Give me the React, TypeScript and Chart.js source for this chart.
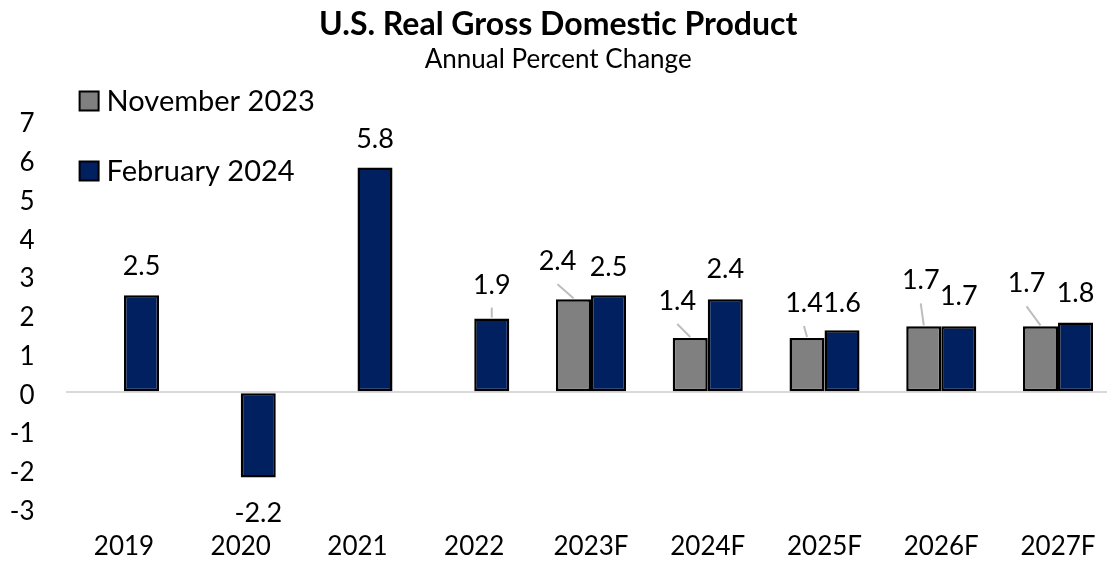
import React, { useEffect, useRef } from "react";
import { Chart, registerables } from "chart.js";

Chart.register(...registerables);

// ---- data ----
const categories = ["2019", "2020", "2021", "2022", "2023F", "2024F", "2025F", "2026F", "2027F"];
const november2023: (number | null)[] = [null, null, null, null, 2.4, 1.4, 1.4, 1.7, 1.7];
const february2024: (number | null)[] = [2.5, -2.2, 5.8, 1.9, 2.5, 2.4, 1.6, 1.7, 1.8];
const seriesNames = ["November 2023", "February 2024"];
const yMin = -3;
const yMax = 7;
const yStep = 1;

// ---- label placement (dx from bar centre, gap from bar end), px ----
const novLabelOffsets: ([number, number] | null)[] = [null, null, null, null, [-16, 29], [-13, 28], [-3, 26], [-3, 37], [-14, 34]];
const febLabelOffsets: ([number, number] | null)[] = [[0, 20], [0, 25], [0, 19], [0, 25], [0, 19], [0, 21], [0, 18], [0, 21], [0, 20]];

const FONT = "Lato, 'Noto Sans', sans-serif";
const TEXT = "#000000";
const GRAY = "#808080";
const BLUE = "#002060";
const LABEL_SIZE = 27;

const valueLabels = {
  id: "valueLabels",
  afterDatasetsDraw(chart: any) {
    const ctx = chart.ctx;
    ctx.save();
    ctx.font = `${LABEL_SIZE}px ${FONT}`;
    ctx.textAlign = "center";
    ctx.textBaseline = "alphabetic";
    ctx.fillStyle = TEXT;
    const offsets = [novLabelOffsets, febLabelOffsets];
    chart.data.datasets.forEach((ds: any, di: number) => {
      const meta = chart.getDatasetMeta(di);
      meta.data.forEach((bar: any, i: number) => {
        const v = ds.data[i];
        const off = offsets[di][i];
        if (v == null || !off) return;
        const [dx, gap] = off;
        const lx = bar.x + dx;
        let ly: number;
        if (v >= 0) {
          ly = bar.y - gap;
          if (gap >= 24) {
            ctx.save();
            ctx.strokeStyle = "#bdbdbd";
            ctx.lineWidth = 2;
            ctx.beginPath();
            ctx.moveTo(bar.x, bar.y - 1);
            ctx.lineTo(lx, ly + 14);
            ctx.stroke();
            ctx.restore();
          }
        } else {
          ly = bar.y + gap + LABEL_SIZE * 0.72;
        }
        ctx.fillText(v.toFixed(1), lx, ly);
      });
    });
    ctx.restore();
  },
};

const boxLegend = {
  id: "boxLegend",
  afterDraw(chart: any) {
    const ctx = chart.ctx;
    const ca = chart.chartArea;
    ctx.save();
    ctx.font = `29px ${FONT}`;
    ctx.textAlign = "left";
    ctx.textBaseline = "middle";
    chart.data.datasets.forEach((ds: any, i: number) => {
      const cy = ca.top - 20 + i * 70;
      const bx = ca.left + 14;
      ctx.fillStyle = ds.backgroundColor;
      ctx.fillRect(bx, cy - 9.5, 19, 19);
      ctx.strokeStyle = "#000";
      ctx.lineWidth = 2;
      ctx.strokeRect(bx, cy - 9.5, 19, 19);
      ctx.fillStyle = TEXT;
      ctx.fillText(ds.label, bx + 27, cy + 1);
    });
    ctx.restore();
  },
};

export default function App() {
  const ref = useRef<HTMLCanvasElement | null>(null);

  useEffect(() => {
    if (!ref.current) return;
    const chart = new Chart(ref.current, {
      type: "bar",
      data: {
        labels: categories,
        datasets: [
          {
            label: seriesNames[0],
            data: november2023,
            backgroundColor: GRAY,
            borderColor: "#000",
            borderWidth: 2.5,
            borderSkipped: false,
          },
          {
            label: seriesNames[1],
            data: february2024,
            backgroundColor: BLUE,
            borderColor: "#000",
            borderWidth: 2.5,
            borderSkipped: false,
          },
        ],
      },
      options: {
        responsive: false,
        animation: false,
        devicePixelRatio: 1,
        layout: { padding: { left: 0, right: 11.6, top: 0, bottom: 0 } },
        datasets: { bar: { categoryPercentage: 0.6, barPercentage: 1.0 } },
        plugins: {
          legend: { display: false },
          tooltip: { enabled: false },
          title: {
            display: true,
            text: "U.S. Real Gross Domestic Product",
            color: TEXT,
            font: { family: FONT, size: 32, weight: "bold" },
            padding: { top: 5, bottom: 0 },
          },
          subtitle: {
            display: true,
            text: "Annual Percent Change",
            color: TEXT,
            font: { family: FONT, size: 26 },
            padding: { top: 1, bottom: 45.4 },
          },
        },
        scales: {
          x: {
            grid: { display: false },
            border: { display: false },
            ticks: { color: TEXT, font: { family: FONT, size: 26 }, padding: 15 },
            afterFit(scale: any) {
              scale.height = 54.6;
            },
          },
          y: {
            min: yMin,
            max: yMax,
            border: { display: false },
            grid: {
              drawTicks: false,
              lineWidth: 2,
              color: (c: any) => (c.tick && c.tick.value === 0 ? "#d9d9d9" : "rgba(0,0,0,0)"),
            },
            ticks: {
              stepSize: yStep,
              color: TEXT,
              font: { family: FONT, size: 26 },
              padding: 31,
              labelOffset: 3,
            },
            afterFit(scale: any) {
              scale.width = 65.6;
            },
          },
        },
      },
      plugins: [valueLabels, boxLegend],
    });
    return () => chart.destroy();
  }, []);

  return (
    <div
      style={{
        position: "absolute",
        left: 0,
        top: 0,
        width: 1107,
        height: 563,
        overflow: "hidden",
        background: "#fff",
      }}
    >
      <canvas ref={ref} width={1128} height={563} style={{ display: "block" }} />
    </div>
  );
}
